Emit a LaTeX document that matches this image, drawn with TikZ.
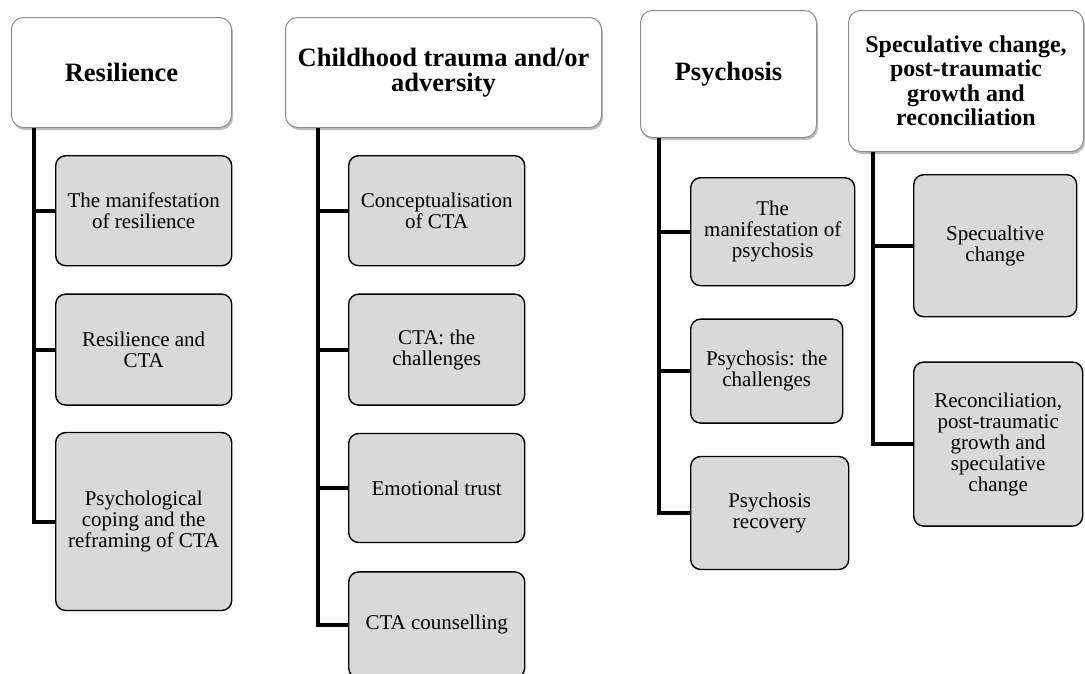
\documentclass[tikz,border=0pt]{standalone}
\usepackage{fontspec}
\setmainfont{Liberation Serif}
\usetikzlibrary{positioning, calc, shadows}

\begin{document}
\begin{tikzpicture}[x=1pt, y=-1pt]
	\tikzstyle{Theme} = [rectangle, anchor=north west, rounded corners=12pt, align=center, draw=black!45, line width=1pt, fill=white, font=\fontsize{26.5}{25}\selectfont\bfseries, drop shadow={shadow xshift=1.5pt, shadow yshift=-2.5pt, fill=black, opacity=0.25}]
	\tikzstyle{Sub} = [rectangle, rounded corners=10pt, align=center, draw=black, line width=1.4pt, fill=black!15, font=\fontsize{21}{21}\selectfont]
	\tikzstyle{branch} = [line width=4pt]
	
	\useasboundingbox (0,0) rectangle (1085,673);
	
	% Resilience
	\node (res) [Theme, minimum width=220pt, minimum height=110pt] at (11,17) {Resilience};
	\node (resA) [Sub, below right = 27pt and 44pt of res.south west, minimum width=176pt, minimum height=110pt] {The manifestation\\of resilience};
	\node (resB) [Sub, below right = 27pt and 0pt of resA.south west, minimum width=176pt, minimum height=111pt] {Resilience and\\CTA};
	\node (resC) [Sub, below right = 26pt and 0pt of resB.south west, minimum width=176pt, minimum height=178pt] {Psychological\\coping and the\\reframing of CTA};
	
	% Childhood trauma
	\node (cta) [Theme, minimum width=316pt, minimum height=110pt] at (285,17) {Childhood trauma and/or\\adversity};
	\node (ctaA) [Sub, below right = 27pt and 63pt of cta.south west, minimum width=176pt, minimum height=110pt] {Conceptualisation\\of CTA};
	\node (ctaB) [Sub, below right = 27pt and 0pt of ctaA.south west, minimum width=176pt, minimum height=111pt] {CTA: the\\challenges};
	\node (ctaC) [Sub, below right = 27pt and 0pt of ctaB.south west, minimum width=176pt, minimum height=109pt] {Emotional trust};
	\node (ctaD) [Sub, below right = 28pt and 0pt of ctaC.south west, minimum width=176pt, minimum height=106pt] {CTA counselling};
	
	% Psychosis
	\node (psy) [Theme, minimum width=176pt, minimum height=127pt] at (640,10) {Psychosis};
	\node (psyA) [Sub, below right = 39pt and 50pt of psy.south west, minimum width=164pt, minimum height=108pt] {The\\manifestation of\\psychosis};
	\node (psyB) [Sub, below right = 32pt and 0pt of psyA.south west, minimum width=152pt, minimum height=104pt] {Psychosis: the\\challenges};
	\node (psyC) [Sub, below right = 32pt and 0pt of psyB.south west, minimum width=158pt, minimum height=113pt] {Psychosis\\recovery};
	
	% Speculative change
	\node (spc) [Theme, font=\fontsize{24}{24.5}\selectfont\bfseries, minimum width=235pt, minimum height=141pt] at (848,10) {Speculative change,\\post-traumatic\\growth and\\reconciliation};
	\node (spcA) [Sub, below right = 22pt and 65pt of spc.south west, minimum width=163pt, minimum height=142pt] {Specualtive\\change};
	\node (spcB) [Sub, below right = 44pt and 0pt of spcA.south west, minimum width=169pt, minimum height=164pt] {Reconciliation,\\post-traumatic\\growth and\\speculative\\change};
	
	% spines
	\coordinate (resSpine) at ($(res.south west)!0.105!(res.south east)$);
	\coordinate (ctaSpine) at ($(cta.south west)!0.105!(cta.south east)$);
	\coordinate (psySpine) at ($(psy.south west)!0.105!(psy.south east)$);
	\coordinate (spcSpine) at ($(spc.south west)!0.105!(spc.south east)$);
	
	\foreach \c in {resA, resB, resC}
		\draw[branch] (resSpine) |- (\c.west);
	\foreach \c in {ctaA, ctaB, ctaC, ctaD}
		\draw[branch] (ctaSpine) |- (\c.west);
	\foreach \c in {psyA, psyB, psyC}
		\draw[branch] (psySpine) |- (\c.west);
	\foreach \c in {spcA, spcB}
		\draw[branch] (spcSpine) |- (\c.west);
\end{tikzpicture}
\end{document}
